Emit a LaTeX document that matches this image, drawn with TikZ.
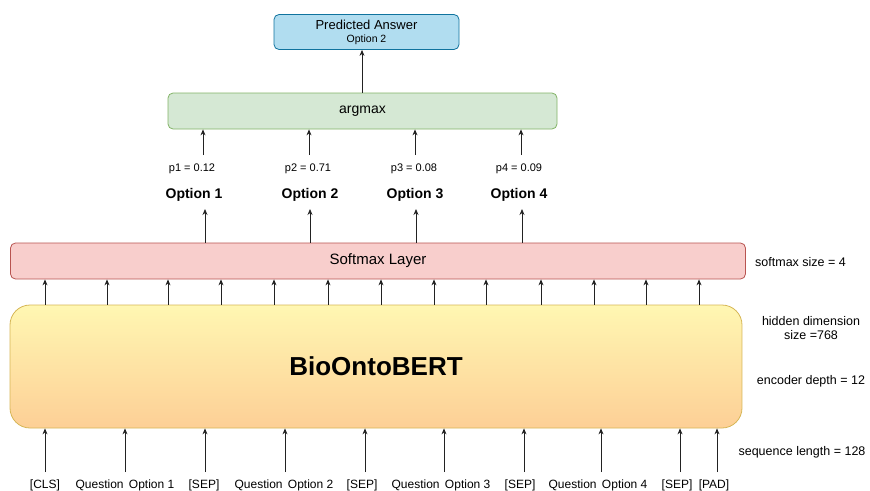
\documentclass[tikz,border=0pt]{standalone}
\usepackage{fontspec}
\setmainfont{Liberation Sans}
\usetikzlibrary{arrows.meta}
\definecolor{ansfill}{HTML}{B1DDF0}
\definecolor{ansdraw}{HTML}{10739E}
\definecolor{argfill}{HTML}{D5E8D4}
\definecolor{argdraw}{HTML}{82B366}
\definecolor{smfill}{HTML}{F8CECC}
\definecolor{smdraw}{HTML}{B85450}
\definecolor{bertA}{HTML}{FFF7B2}
\definecolor{bertB}{HTML}{FDCF96}
\definecolor{bertdraw}{HTML}{D6B656}
\definecolor{linec}{HTML}{222222}
\newcommand{\fs}[1]{\fontsize{#1}{#1}\selectfont}
\tikzset{
  boxsty/.style={rounded corners=5pt, line width=0.8pt, inner sep=0pt, align=center},
  arr/.style={draw=linec, line width=0.8pt, -{Stealth[length=6pt,width=5pt]}},
  lbl/.style={inner sep=0pt, text=black},
}
\begin{document}
\begin{tikzpicture}[x=1pt,y=-1pt]
\useasboundingbox (0,0) rectangle (870,490);
% boxes
\node[boxsty, draw=ansdraw, fill=ansfill, minimum width=185pt, minimum height=35pt] (ans) at (366.5,32)
  {\fs{13}Predicted Answer\\[1pt]\fs{10.5}Option 2};
\node[boxsty, draw=argdraw, fill=argfill, minimum width=389pt, minimum height=36pt] (argm) at (362.5,111)
  {\fs{14}argmax};
\node[boxsty, draw=smdraw, fill=smfill, minimum width=735pt, minimum height=36pt] (soft) at (378,261)
  {\fs{15}Softmax Layer};
\node[boxsty, rounded corners=20pt, draw=bertdraw, top color=bertA, bottom color=bertB, minimum width=732pt, minimum height=123pt] (bert) at (376,366.5)
  {\fs{26}\bfseries BioOntoBERT};
% answer arrow
\coordinate (ca) at (362,0);
\draw[arr] (argm.north -| ca) -- (ans.south -| ca);
% p labels and arrows
\node[lbl] (p1) at (192,169) {\fs{11}p1 = 0.12};
\node[lbl] (p2) at (308,169) {\fs{11}p2 = 0.71};
\node[lbl] (p3) at (414,169) {\fs{11}p3 = 0.08};
\node[lbl] (p4) at (519,169) {\fs{11}p4 = 0.09};
\foreach \i/\x in {1/203,2/309,3/415,4/521}{
  \coordinate (ps\i) at (\x,155);
  \draw[arr] (ps\i) -- (argm.south -| ps\i);
}
% option labels and arrows
\node[lbl] (o1) at (194,195) {\fs{14}\bfseries Option 1};
\node[lbl] (o2) at (310,195) {\fs{14}\bfseries Option 2};
\node[lbl] (o3) at (415,195) {\fs{14}\bfseries Option 3};
\node[lbl] (o4) at (519,195) {\fs{14}\bfseries Option 4};
\foreach \i/\x in {1/205,2/310,3/416,4/522}{
  \coordinate (oe\i) at (\x,209);
  \draw[arr] (soft.north -| oe\i) -- (oe\i);
}
% bert to softmax arrows
\foreach \i/\x in {1/45,2/107,3/168,4/221,5/274,6/328,7/381,8/434,9/486,10/541,11/594,12/646,13/699}{
  \coordinate (h\i) at (\x,0);
  \draw[arr] (bert.north -| h\i) -- (soft.south -| h\i);
}
% input labels and arrows
\node[lbl] (t1) at (45,485) {\fs{12}[CLS]};
\node[lbl] (t2) at (125,485) {\fs{12}Question\, Option 1};
\node[lbl] (t3) at (204,485) {\fs{12}[SEP]};
\node[lbl] (t4) at (284,485) {\fs{12}Question\, Option 2};
\node[lbl] (t5) at (362,485) {\fs{12}[SEP]};
\node[lbl] (t6) at (441,485) {\fs{12}Question\, Option 3};
\node[lbl] (t7) at (520,485) {\fs{12}[SEP]};
\node[lbl] (t8) at (598,485) {\fs{12}Question\, Option 4};
\node[lbl] (t9) at (677,485) {\fs{12}[SEP]};
\node[lbl] (t10) at (714,485) {\fs{12}[PAD]};
\foreach \i/\x in {1/45,2/125,3/205,4/285,5/365,6/444,7/524,8/601,9/680,10/717}{
  \coordinate (in\i) at (\x,472);
  \draw[arr] (in\i) -- (bert.south -| in\i);
}
% right-side annotations
\node[lbl, anchor=west] (r1) at (755,262) {\fs{12.5}softmax size = 4};
\node[lbl, align=center] (r2) at (811,328) {\fs{12.5}hidden dimension\\[2pt]\fs{12.5}size =768};
\node[lbl] (r3) at (811,381) {\fs{12.5}encoder depth = 12};
\node[lbl] (r4) at (802,452) {\fs{12.5}sequence length = 128};
\end{tikzpicture}
\end{document}
